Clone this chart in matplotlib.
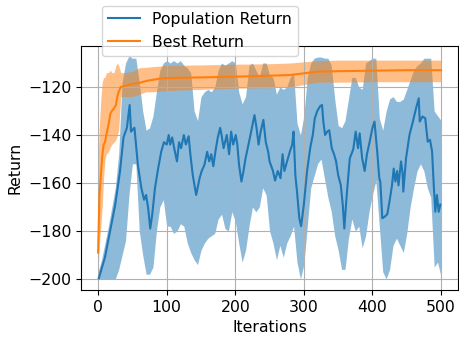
import numpy as np
import matplotlib
matplotlib.use("Agg")
import matplotlib.pyplot as plt

# population return mean at uneven steps
pop_iters = [
    1, 10, 17.5, 25, 32, 37, 42, 46, 48, 53, 58, 63, 67, 70, 73, 76, 79, 83,
    87.5, 92, 96, 100, 103, 105, 108, 112, 115, 118, 121, 125, 128, 132, 134.5,
    138, 143, 148, 151, 155, 159, 162, 165, 168, 171, 174.5, 178, 180, 183,
    187.6, 191, 194, 197, 200.7, 203, 205.5, 209, 212, 215, 220, 225, 228, 231,
    234, 237, 241, 244.5, 248, 250, 255, 258, 262, 266, 269, 271.6, 275.5,
    279.5, 283, 285, 287.6, 290, 293.4, 296, 300, 304.7, 309.5, 313, 316,
    319.6, 323.6, 326.5, 328.4, 331, 334, 337, 340.7, 344, 347, 350, 353.8,
    356.7, 359, 362.5, 367, 372, 375.6, 379, 381.4, 385, 388.7, 392, 396, 400,
    403, 407, 410, 411.5, 414.4, 418, 421.7, 425, 428.6, 431, 433.4, 436, 438,
    441.7, 444, 445, 449, 454, 459, 463.6, 467.5, 469, 473, 477, 480.6, 484,
    487, 489.4, 491.7, 494, 496.6, 499,
]
pop_mean = [
    -199.7, -191, -180, -169, -155, -141, -137, -127.5, -138.6, -137, -152.5,
    -162, -167, -165, -170.5, -179, -173, -162, -154, -147, -143, -144, -140,
    -144, -141, -147, -151, -143, -145.5, -140, -144, -140.5, -148, -156.7,
    -165, -158, -155, -152.5, -147, -151, -148, -153, -147, -141, -137, -140,
    -145.5, -140, -148, -138.6, -144, -140, -144, -152.5, -159.4, -155,
    -149.7, -143, -135.8, -131.7, -137, -144, -138.6, -133.7, -143, -147,
    -151, -155, -159, -155, -158, -148, -155, -151, -147, -144, -138.6,
    -156.7, -163.6, -174.7, -178, -169, -155, -145, -140, -133, -130, -128,
    -127.5, -134.4, -140, -138.6, -138, -145.5, -148, -151, -156.7, -160.8,
    -169, -179, -165, -149.7, -146, -138.6, -145.5, -139.3, -149.7, -155,
    -148, -142.8, -137, -134.4, -147, -158, -159.4, -174.7, -174, -173,
    -167.5, -160.8, -154, -159.4, -155, -161, -151, -156, -163.6, -149.7,
    -140, -134.4, -128.9, -124.7, -134.4, -132.3, -133, -142.8, -142, -147,
    -160.8, -172, -165, -172, -169,
]

# population return spread, read every 5 iterations
band_iters = list(range(0, 501, 5))
pop_upper = [
    -197, -192, -185, -178, -170, -162, -148, -118, -110, -107,
    -108, -108, -118, -130, -138, -137, -132, -122, -113, -110,
    -109, -110, -109, -110, -109, -111, -112, -114, -130, -134,
    -124, -122, -121, -122, -120, -113, -110, -111, -110, -109,
    -110, -122, -127, -124, -111, -110, -113, -116, -110, -110,
    -115, -116, -123, -120, -121, -120, -116, -114, -135, -140,
    -132, -116, -110, -108, -107.5, -107.5, -108, -108, -111, -125,
    -136, -137, -134, -125, -116, -116, -120, -121, -110, -109,
    -108, -108, -133, -138, -130, -125, -124, -126, -126, -125,
    -121, -117, -113, -111, -110, -108, -108, -108, -130, -132,
    -134,
]
pop_lower = [
    -200, -200, -200, -200, -200, -200, -196, -190, -184, -165,
    -152, -152, -180, -190, -198, -198, -195, -180, -170, -167,
    -178, -178, -181, -180, -177, -178, -185, -189, -192, -194,
    -188, -185, -183, -182, -181, -175, -173, -179, -180, -172,
    -176, -185, -193, -188, -178, -170, -172, -170, -162, -165,
    -180, -185, -192, -186, -191, -185, -182, -178, -193, -200,
    -194, -178, -162, -157, -152, -150, -158, -166, -172, -182,
    -188, -196, -196, -183, -175, -180, -178, -187, -182, -172,
    -165, -159, -178, -197, -200, -196, -186, -183, -186, -189,
    -181, -170, -162, -155, -152, -155, -162, -166, -195, -193,
    -199,
]

# best return (finer steps at the start where it climbs fast)
best_iters = [0, 2, 4, 6, 8, 10, 12, 15, 18, 20, 23, 26, 28, 30, 33, 40, 50, 60,
              70, 80, 90, 100, 150, 200, 250, 280, 300, 320, 350, 400, 450, 500]
best_mean = [-189, -165, -157, -149, -144, -143, -140, -136, -131, -130, -129,
             -127.5, -124, -122, -120, -119.5, -118.7, -118.3, -117.5, -117,
             -116.5, -116.3, -116, -115.7, -115.3, -115, -114.3, -113.6,
             -113.4, -113.2, -113, -113]
best_upper = [-150, -135, -125, -118, -116, -116, -114, -114, -113, -114, -114,
              -111, -110, -111, -114, -114, -113.5, -112, -111.8, -111.5,
              -111.3, -111, -110.8, -110.5, -110.3, -110, -109.5, -109,
              -108.8, -108.8, -108.8, -108.8]
best_lower = [-196, -185, -178, -170, -158, -150, -148, -147, -145, -144, -143,
              -142, -140, -138, -124, -124, -124, -123, -122, -122, -121.8,
              -121.5, -121, -120.5, -120.3, -120, -119, -118, -118, -117.8,
              -117.8, -117.8]

plt.rcParams['font.size'] = 11.3

fig = plt.figure(figsize=(4.6, 3.38), dpi=100)
ax = fig.add_axes([0.176, 0.142, 0.82, 0.722])

ax.fill_between(band_iters, pop_lower, pop_upper, color='C0', alpha=0.5, linewidth=0)
ax.plot(pop_iters, pop_mean, color='C0', label='Population Return')
ax.fill_between(best_iters, best_lower, best_upper, color='C1', alpha=0.5, linewidth=0)
ax.plot(best_iters, best_mean, color='C1', label='Best Return')

ax.set_xlim(-25, 525)
ax.set_ylim(-204.6, -102.9)
ax.set_xticks([0, 100, 200, 300, 400, 500])
ax.set_yticks([-200, -180, -160, -140, -120])
ax.grid(True)
ax.set_xlabel("Iterations")
ax.set_ylabel("Return")
ax.legend(loc='upper left', bbox_to_anchor=(0.056, 1.165), borderaxespad=0)

plt.savefig("out.png", dpi=100)
